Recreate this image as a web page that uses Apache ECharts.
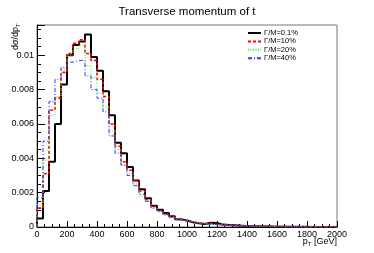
<!DOCTYPE html>
<html>
<head>
<meta charset="utf-8">
<script src="https://cdn.jsdelivr.net/npm/echarts@6/dist/echarts.min.js"></script>
<style>html,body{margin:0;padding:0;background:#fff}#c{width:374px;height:253px}</style>
</head>
<body>
<div id="c"></div>
<script>
// bin width 40 GeV, 50 bins from 0 to 2000
const binWidth = 40;
const seriesNames = ['\u0393/M=0.1%', '\u0393/M=10%', '\u0393/M=20%', '\u0393/M=40%'];
const w01 = [0.0005,0.0021,0.0038,0.0060,0.0083,0.0100,0.0106,0.0108,0.0112,0.0099,0.0091,0.0079,0.0065,0.0049,0.0043,0.0035,0.0027,0.0022,0.00168,0.00124,0.0010,0.00081,0.00062,0.00045,0.00038,0.00028,0.00022,0.00018,0.00025,0.00024,0.00014,0.00012,0.0001,0.00008,0.00006,0.00005,0.00004,0.00003,0.00003,0.00002,0.00002,0.000015,0.00001,0.00001,0.00001,0.000005,0.000005,0.000005,0.000003,0.000003];
const w10 = [0.0011,0.0031,0.0068,0.0075,0.0090,0.0101,0.0107,0.0109,0.0101,0.0097,0.0086,0.0076,0.0060,0.0047,0.0038,0.0033,0.0027,0.0021,0.0016,0.0012,0.00095,0.00075,0.0006,0.00045,0.00035,0.0003,0.00022,0.0002,0.0002,0.00015,0.00013,0.00011,0.0001,0.00008,0.00006,0.00005,0.00004,0.00004,0.00003,0.00003,0.00002,0.00002,0.000015,0.00001,0.00001,0.00001,0.000008,0.000006,0.000005,0.000004];
const w20 = [0.0013,0.0039,0.0065,0.0076,0.0092,0.0100,0.0104,0.0106,0.0094,0.0087,0.0078,0.0070,0.0056,0.0045,0.0036,0.0031,0.0025,0.0018,0.0015,0.0011,0.0009,0.0007,0.00055,0.00045,0.00035,0.0003,0.00025,0.0002,0.00015,0.00014,0.00012,0.0001,0.00009,0.00007,0.00006,0.00005,0.00004,0.00004,0.00003,0.00003,0.00002,0.00002,0.000015,0.000012,0.00001,0.00001,0.000008,0.000006,0.000005,0.000004];
const w40 = [0.0017,0.0050,0.0073,0.0086,0.0093,0.0096,0.0097,0.0097,0.0088,0.0080,0.0075,0.0067,0.0053,0.0043,0.0036,0.0030,0.0024,0.0019,0.0015,0.0011,0.0009,0.0007,0.00055,0.0004,0.00035,0.0003,0.00022,0.00018,0.00015,0.00014,0.00012,0.0001,0.00009,0.00008,0.00007,0.00006,0.00005,0.00004,0.00004,0.00003,0.00003,0.00002,0.00002,0.000015,0.000012,0.00001,0.00001,0.000008,0.000006,0.000005];
const xTicks = [0,200,400,600,800,1000,1200,1400,1600,1800,2000];
const yTicks = [0,0.002,0.004,0.006,0.008,0.01];

function hist(vals){
  const pts=[[0,0]];
  vals.forEach((v,i)=>pts.push([i*binWidth,v]));
  pts.push([vals.length*binWidth, vals[vals.length-1]]);
  return pts;
}
const F='Liberation Sans, Arial, Helvetica, sans-serif';
const chart = echarts.init(document.getElementById('c'), null, {renderer:'canvas'});
const styles = [
  {color:'#000000', width:2, type:'solid'},
  {color:'#ff0000', width:1.6, type:[3,2]},
  {color:'#33ee33', width:1, type:[1,1.5]},
  {color:'#3333ff', width:1, type:[4,2,1,2]}
];
const allVals=[w01,w10,w20,w40];
chart.setOption({
  animation:false,
  title:{text:'Transverse momentum of t', left:'center', top:1, textStyle:{fontFamily:F, fontWeight:'normal', fontSize:11.5, color:'#000'}},
  grid:{left:37, right:37, top:25, bottom:26, show:true, borderColor:'#777', borderWidth:1},
  legend:{orient:'vertical', left:247, top:29, itemWidth:13, itemHeight:8, itemGap:0.4, padding:0,
    itemStyle:{opacity:0},
    textStyle:{fontFamily:F, fontSize:7.5, color:'#000', padding:[0,0,0,-2]},
    data:seriesNames},
  xAxis:{type:'value', min:xTicks[0], max:xTicks[xTicks.length-1], interval:200,
    axisLine:{show:true, onZero:false, lineStyle:{color:'#000', width:1}},
    axisTick:{show:true, inside:true, length:6, lineStyle:{color:'#000'}},
    minorTick:{show:true, splitNumber:4, length:3, lineStyle:{color:'#000'}},
    splitLine:{show:false},
    axisLabel:{fontFamily:F, fontSize:9, color:'#000', margin:3, formatter:v=>String(v)}},
  yAxis:{type:'value', min:0, max:0.01176, interval:0.002,
    axisLine:{show:true, lineStyle:{color:'#000', width:1}},
    axisTick:{show:true, inside:true, length:8, lineStyle:{color:'#000'}},
    minorTick:{show:true, splitNumber:4, length:4, lineStyle:{color:'#000'}},
    splitLine:{show:false},
    axisLabel:{fontFamily:F, fontSize:9, color:'#000', margin:3, showMaxLabel:false,
      formatter:v=> yTicks.some(t=>Math.abs(t-v)<1e-9) ? String(+v.toFixed(4)) : ''}},
  graphic:[
    {type:'text', x:16, y:50, rotation:Math.PI/2,
      style:{text:'{a|d\u03c3/dp}{s|T}', align:'left', verticalAlign:'middle',
        rich:{a:{fontFamily:F, fontSize:9, fill:'#000'}, s:{fontFamily:F, fontSize:6, fill:'#000', padding:[5,0,0,0]}}}},
    {type:'text', x:337, y:242,
      style:{text:'{a|p}{s|T}{a| [GeV]}', align:'right', verticalAlign:'middle',
        rich:{a:{fontFamily:F, fontSize:9, fill:'#000'}, s:{fontFamily:F, fontSize:6, fill:'#000', padding:[5,0,0,0]}}}}
  ],
  series: allVals.map((vals,i)=>({
    name:seriesNames[i], type:'line', step:'end', data:hist(vals), symbol:'none', showSymbol:false,
    lineStyle:styles[i], itemStyle:{color:styles[i].color}, z:2+i
  }))
});
</script>
</body>
</html>
